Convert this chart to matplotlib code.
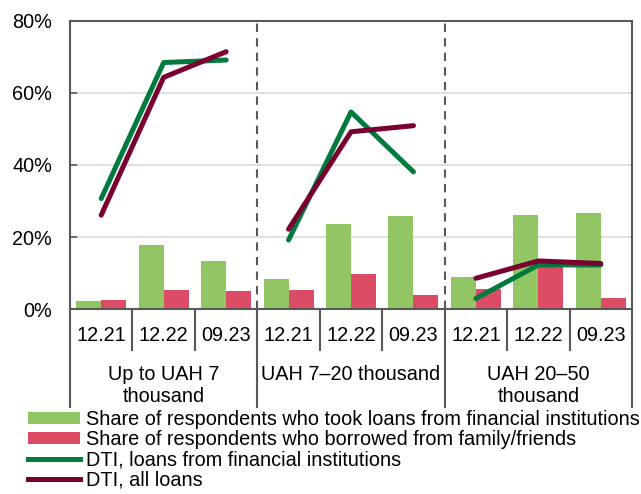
import numpy as np
import matplotlib.pyplot as plt
from matplotlib.patches import Patch
from matplotlib.lines import Line2D

plt.rcParams['font.family'] = ['Liberation Sans', 'DejaVu Sans']

# data
dates = ['12.21', '12.22', '09.23'] * 3
groups = ['Up to UAH 7\nthousand', 'UAH 7\u201320 thousand', 'UAH 20\u201350\nthousand']
share_fin = [2.4, 17.9, 13.5, 8.4, 23.7, 25.8, 8.9, 26.1, 26.7]
share_family = [2.7, 5.3, 5.1, 5.3, 9.7, 3.9, 5.6, 12.0, 3.2]
dti_fin = [30.7, 68.4, 69.1, 19.2, 54.7, 38.1, 3.0, 12.3, 12.3]
dti_all = [26.1, 64.3, 71.4, 22.2, 49.2, 50.9, 8.6, 13.4, 12.7]

green_bar = '#92c664'
red_bar = '#dc4c65'
green_line = '#007a3d'
red_line = '#7b0032'
axis_col = '#595959'
fs = 14.3

fig = plt.figure(figsize=(6.41, 4.94), dpi=100)
ax = fig.add_axes([0.1092, 0.3739, 0.8768, 0.5842])

x = np.arange(len(dates))
w = 0.4
ax.bar(x - w / 2, share_fin, w, color=green_bar, zorder=2)
ax.bar(x + w / 2, share_family, w, color=red_bar, zorder=2)

# DTI lines, one segment per income group
for g in range(3):
    s = slice(3 * g, 3 * g + 3)
    ax.plot(x[s], dti_fin[s], color=green_line, lw=3.6, solid_capstyle='round', zorder=3)
    ax.plot(x[s], dti_all[s], color=red_line, lw=3.6, solid_capstyle='round', zorder=4)

ax.set_xlim(-0.5, 8.5)
ax.set_ylim(0, 80)
ax.set_yticks([0, 20, 40, 60, 80])
ax.set_yticklabels(['0%', '20%', '40%', '60%', '80%'], fontsize=fs)
ax.yaxis.grid(True, color='#d9d9d9', lw=1.2, zorder=0)
ax.set_axisbelow(True)
ax.tick_params(axis='y', direction='in', length=5, width=1.2, color=axis_col, pad=13)
ax.set_xticks([])
for sp in ax.spines.values():
    sp.set_color(axis_col)
    sp.set_linewidth(1.5)

# dashed group dividers
for xv in [2.5, 5.5]:
    ax.axvline(xv, color=axis_col, lw=1.5, ls=(0, (4, 3)), zorder=1)

# category axis drawn as a table under the plot
tr = ax.get_xaxis_transform()
for i, d in enumerate(dates):
    ax.text(i, -0.09, d, transform=tr, ha='center', va='center', fontsize=fs)
for xv in np.arange(-0.5, 9, 1.0):
    bottom = -0.338 if xv in (-0.5, 2.5, 5.5, 8.5) else -0.141
    ax.add_line(Line2D([xv, xv], [0, bottom], transform=tr, color=axis_col,
                       lw=1.5, clip_on=False))
for g, lab in enumerate(groups):
    ax.text(3 * g + 1, -0.192, lab, transform=tr, ha='center', va='top',
            fontsize=fs, linespacing=1.24)

handles = [
    Patch(facecolor=green_bar, label='Share of respondents who took loans from financial institutions'),
    Patch(facecolor=red_bar, label='Share of respondents who borrowed from family/friends'),
    Line2D([], [], color=green_line, lw=3.6, label='DTI, loans from financial institutions'),
    Line2D([], [], color=red_line, lw=3.6, label='DTI, all loans'),
]
fig.legend(handles=handles, loc='upper left', bbox_to_anchor=(0.043, 0.17),
           frameon=False, fontsize=fs, handlelength=2.65, handleheight=0.55,
           handletextpad=0.3, labelspacing=0.06, borderaxespad=0, borderpad=0)

fig.savefig('out.png', dpi=100)
